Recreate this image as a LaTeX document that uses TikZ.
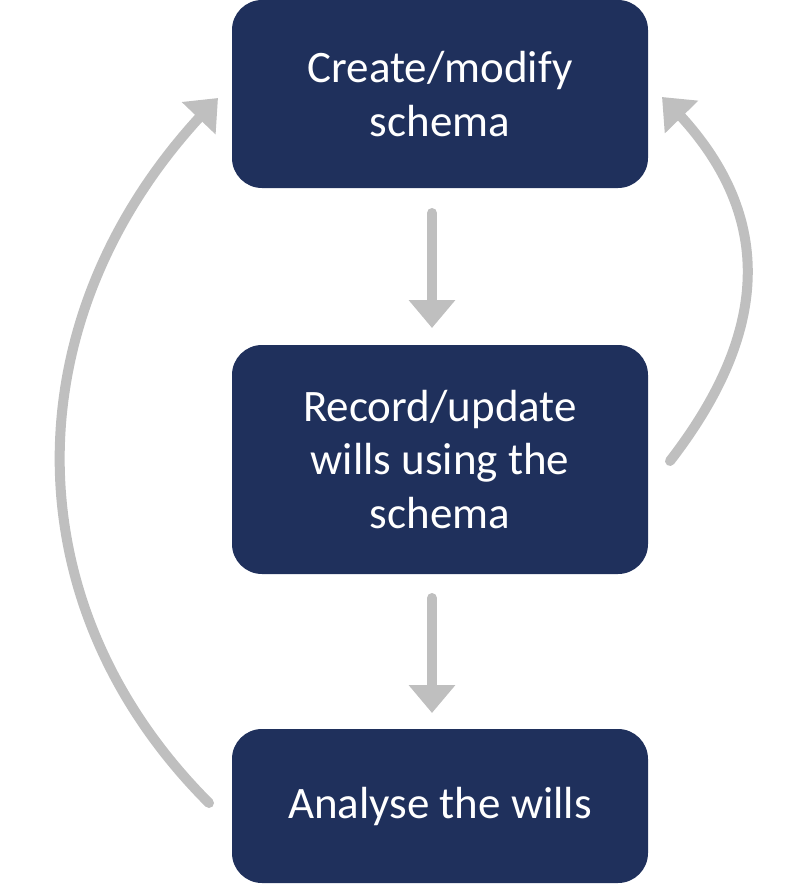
\documentclass[tikz,border=0pt]{standalone}
\usepackage{fontspec}
\setmainfont{Carlito}
\usetikzlibrary{arrows.meta,bending}
\definecolor{navy}{HTML}{1F305C}
\definecolor{arrgray}{HTML}{BFBFBF}
\begin{document}
\begin{tikzpicture}[x=1pt,y=-1pt,
  box/.style={fill=navy,draw=none,rounded corners=30pt,text=white,align=center,
    font=\fontsize{45}{53.5}\selectfont,inner sep=0pt,minimum width=416pt},
  flow/.style={draw=arrgray,line width=10pt,line cap=round,
    -{Triangle[width=45pt,length=28pt,flex]}}]
\useasboundingbox (0,0) rectangle (800,884);
\node[box,minimum height=188pt] (b1) at (440,94) {Create/modify\\schema};
\node[box,minimum height=229pt] (b2) at (440,459.5) {Record/update\\wills using the\\schema};
\node[box,minimum height=154pt] (b3) at (440,806) {Analyse the wills};
\coordinate (s1) at (432,213);
\coordinate (e1) at (432,328);
\coordinate (s2) at (432,598);
\coordinate (e2) at (432,713);
\coordinate (ls) at (209,803);
\coordinate (le) at (218,98);
\coordinate (rs) at (670,461);
\coordinate (re) at (662,97);
\draw[flow] (s1) -- (e1);
\draw[flow] (s2) -- (e2);
\draw[flow] (ls) .. controls (4,598) and (13,303) .. (le);
\draw[flow] (rs) .. controls (775,325) and (775,205) .. (re);
\end{tikzpicture}
\end{document}
